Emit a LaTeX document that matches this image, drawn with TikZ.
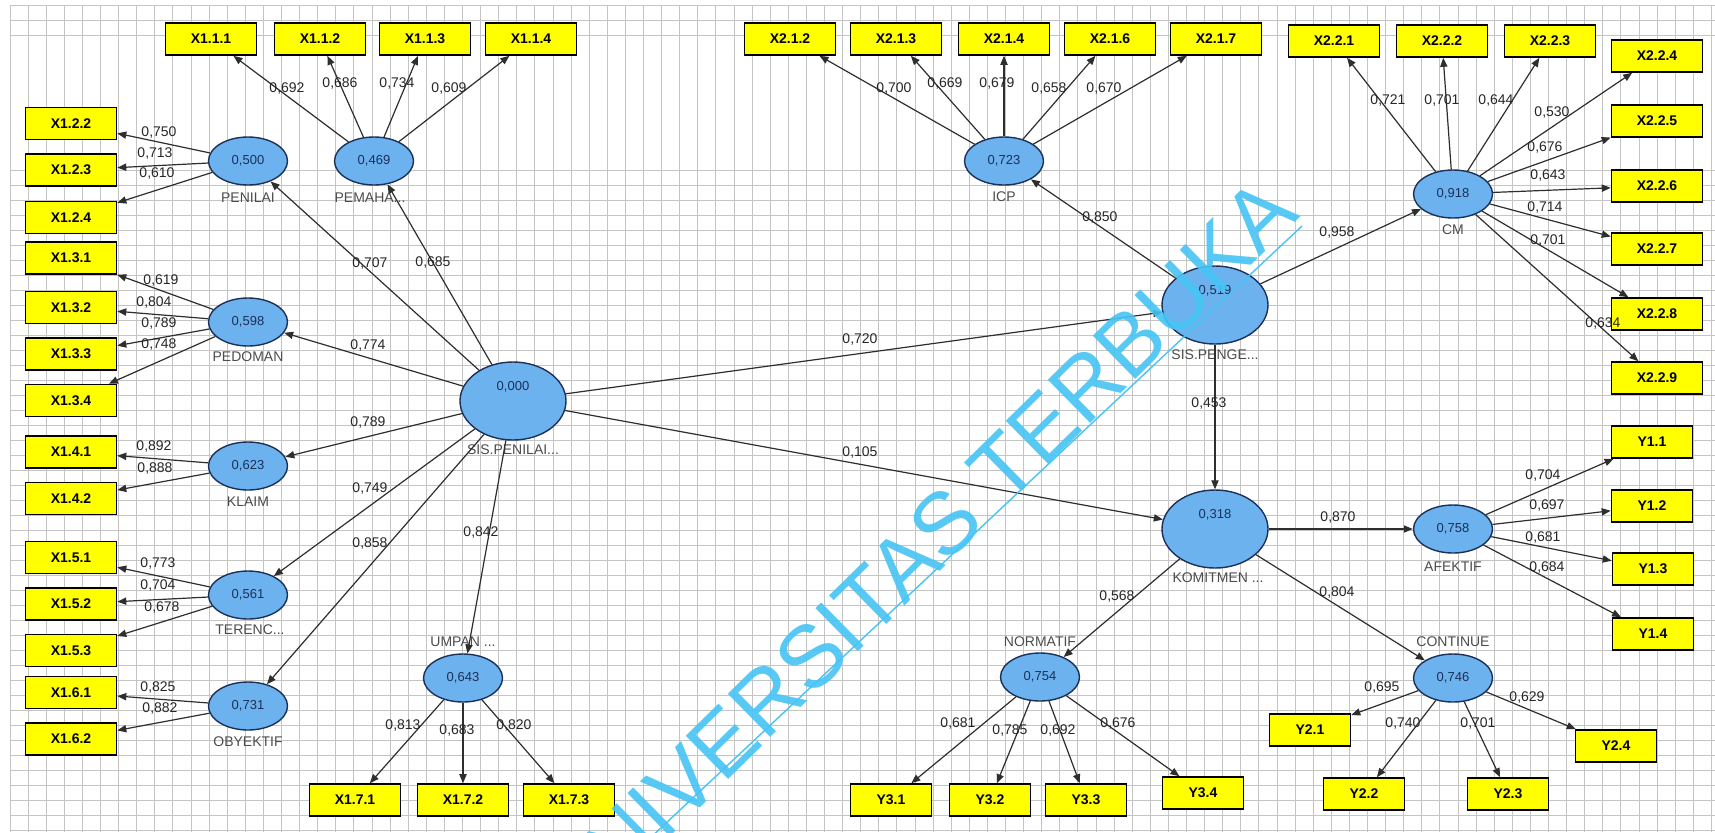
\documentclass[tikz,border=0pt]{standalone}
\usepackage{fontspec}
\setmainfont{Liberation Sans}
\usetikzlibrary{arrows.meta,shapes.geometric}

\definecolor{plsyellow}{RGB}{255,255,0}
\definecolor{plsblue}{RGB}{108,178,238}
\definecolor{plsnavy}{RGB}{28,48,88}
\definecolor{gridgray}{RGB}{196,196,196}
\definecolor{wmblue}{RGB}{70,196,245}

\begin{document}
\begin{tikzpicture}[x=0.5pt,y=-0.5pt,
  ind/.style={draw=black, line width=0.8pt, fill=plsyellow, minimum width=45.5pt,
    minimum height=16pt, inner sep=0pt, font=\fontsize{7}{8}\selectfont\bfseries},
  indy/.style={ind, minimum width=40.5pt},
  lv/.style={ellipse, draw=plsnavy, line width=0.7pt, fill=plsblue, minimum width=39.5pt,
    minimum height=24pt, inner sep=0pt, font=\fontsize{6.5}{7}\selectfont, text=plsnavy},
  biglv/.style={lv, minimum width=53pt, minimum height=39pt},
  bigval/.style={font=\fontsize{6.5}{7}\selectfont, text=plsnavy, inner sep=0pt},
  nm/.style={font=\fontsize{7}{8}\selectfont, text=black!70, inner sep=0pt},
  pl/.style={font=\fontsize{7}{8}\selectfont, text=black!85, inner sep=0pt},
  ld/.style={draw=black!82, line width=0.6pt, -{Triangle[length=4.5pt,width=3.6pt]}},
  gridln/.style={draw=gridgray, line width=0.5pt},
  wm/.style={font=\fontsize{44}{45}\selectfont, text=wmblue, inner sep=0pt},
  wmline/.style={draw=wmblue, line width=0.7pt}
]
% canvas
\fill[white] (0,0) rectangle (1715,832);
\useasboundingbox (0,0) rectangle (1715,832);

% graph-paper background
\foreach \k in {0,...,94} \draw[gridln] ({10+18.1*\k},5) -- ({10+18.1*\k},832);
\foreach \k in {0,1,2} \draw[gridln] (10,{5+15*\k}) -- (1715,{5+15*\k});
\foreach \k in {11,...,55} \draw[gridln] (10,{5+15*\k}) -- (1715,{5+15*\k});

% ---------- indicators ----------
\node[ind] (x111) at (211,39) {X1.1.1};
\node[ind] (x112) at (320,39) {X1.1.2};
\node[ind] (x113) at (425,39) {X1.1.3};
\node[ind] (x114) at (531,39) {X1.1.4};

\node[ind] (x122) at (71,123.5) {X1.2.2};
\node[ind] (x123) at (71,170) {X1.2.3};
\node[ind] (x124) at (71,217.5) {X1.2.4};
\node[ind] (x131) at (71,258) {X1.3.1};
\node[ind] (x132) at (71,307.5) {X1.3.2};
\node[ind] (x133) at (71,354) {X1.3.3};
\node[ind] (x134) at (71,400.5) {X1.3.4};
\node[ind] (x141) at (71,452) {X1.4.1};
\node[ind] (x142) at (71,498.5) {X1.4.2};
\node[ind] (x151) at (71,557.5) {X1.5.1};
\node[ind] (x152) at (71,604) {X1.5.2};
\node[ind] (x153) at (71,650.5) {X1.5.3};
\node[ind] (x161) at (71,692.5) {X1.6.1};
\node[ind] (x162) at (71,739) {X1.6.2};

\node[ind] (x171) at (355,800) {X1.7.1};
\node[ind] (x172) at (463,800) {X1.7.2};
\node[ind] (x173) at (569,800) {X1.7.3};

\node[ind] (x212) at (790,39) {X2.1.2};
\node[ind] (x213) at (896,39) {X2.1.3};
\node[ind] (x214) at (1004,39) {X2.1.4};
\node[ind] (x216) at (1110,39) {X2.1.6};
\node[ind] (x217) at (1216,39) {X2.1.7};

\node[ind] (x221) at (1334,41) {X2.2.1};
\node[ind] (x222) at (1442,41) {X2.2.2};
\node[ind] (x223) at (1550,41) {X2.2.3};
\node[ind] (x224) at (1657,56) {X2.2.4};
\node[ind] (x225) at (1657,121) {X2.2.5};
\node[ind] (x226) at (1657,186) {X2.2.6};
\node[ind] (x227) at (1657,249) {X2.2.7};
\node[ind] (x228) at (1657,314) {X2.2.8};
\node[ind] (x229) at (1657,378) {X2.2.9};

\node[indy] (y11) at (1652,442) {Y1.1};
\node[indy] (y12) at (1652,506) {Y1.2};
\node[indy] (y13) at (1653,569) {Y1.3};
\node[indy] (y14) at (1653,634) {Y1.4};

\node[indy] (y21) at (1310,730) {Y2.1};
\node[indy] (y22) at (1364,794) {Y2.2};
\node[indy] (y23) at (1508,794) {Y2.3};
\node[indy] (y24) at (1616,746) {Y2.4};

\node[indy] (y31) at (891,800) {Y3.1};
\node[indy] (y32) at (990,800) {Y3.2};
\node[indy] (y33) at (1086,800) {Y3.3};
\node[indy] (y34) at (1203,793) {Y3.4};

% ---------- latent variables ----------
\node[lv] (penilai) at (248,161) {0,500};
\node[lv] (pemaha) at (374,161) {0,469};
\node[lv] (pedoman) at (248,322) {0,598};
\node[lv] (klaim) at (248,466) {0,623};
\node[lv] (terenc) at (248,595) {0,561};
\node[lv] (obyek) at (248,706) {0,731};
\node[lv] (umpan) at (463,678) {0,643};
\node[biglv, label={[bigval,yshift=7pt]center:0,000}] (spn) at (513,401) {};
\node[lv] (icp) at (1004,161) {0,723};
\node[lv] (cm) at (1453,194) {0,918};
\node[biglv, label={[bigval,yshift=7pt]center:0,519}] (spg) at (1215,305) {};
\node[biglv, label={[bigval,yshift=7pt]center:0,318}] (kom) at (1215,529) {};
\node[lv] (afek) at (1453,529) {0,758};
\node[lv] (norm) at (1040,677) {0,754};
\node[lv] (cont) at (1453,678) {0,746};

% names of the latent variables
\node[nm] (npenilai) at (248,198) {PENILAI};
\node[nm] (npemaha) at (370,198) {PEMAHA...};
\node[nm] (npedoman) at (248,357) {PEDOMAN};
\node[nm] (nklaim) at (248,502) {KLAIM};
\node[nm] (nterenc) at (250,630) {TERENC...};
\node[nm] (nobyek) at (248,742) {OBYEKTIF};
\node[nm] (numpan) at (463,642) {UMPAN ...};
\node[nm] (nspn) at (513,450) {SIS.PENILAI...};
\node[nm] (nicp) at (1004,197) {ICP};
\node[nm] (ncm) at (1453,230) {CM};
\node[nm] (nspg) at (1215,355) {SIS.PENGE...};
\node[nm] (nkom) at (1218,578) {KOMITMEN ...};
\node[nm] (nafek) at (1453,567) {AFEKTIF};
\node[nm] (nnorm) at (1040,642) {NORMATIF};
\node[nm] (ncont) at (1453,642) {CONTINUE};

% ---------- outer loadings ----------
\foreach \s/\t in {pemaha/x111, pemaha/x112, pemaha/x113, pemaha/x114,
  penilai/x122, penilai/x123, penilai/x124,
  pedoman/x131, pedoman/x132, pedoman/x133, pedoman/x134,
  klaim/x141, klaim/x142,
  terenc/x151, terenc/x152, terenc/x153,
  obyek/x161, obyek/x162,
  umpan/x171, umpan/x172, umpan/x173,
  icp/x212, icp/x213, icp/x214, icp/x216, icp/x217,
  cm/x221, cm/x222, cm/x223, cm/x224, cm/x225, cm/x226, cm/x227, cm/x228, cm/x229,
  afek/y11, afek/y12, afek/y13, afek/y14,
  cont/y21, cont/y22, cont/y23, cont/y24,
  norm/y31, norm/y32, norm/y33, norm/y34}
  \draw[ld] (\s) -- (\t);

% ---------- structural paths ----------
\foreach \s/\t in {spn/penilai, spn/pemaha, spn/pedoman, spn/klaim, spn/terenc,
  spn/obyek, spn/umpan, spn/spg, spn/kom,
  spg/icp, spg/cm, spg/kom,
  kom/afek, kom/norm, kom/cont}
  \draw[ld] (\s) -- (\t);

% ---------- coefficients ----------
\node[pl] (c01) at (159,132) {0,750};
\node[pl] (c02) at (155,153) {0,713};
\node[pl] (c03) at (157,173) {0,610};
\node[pl] (c04) at (287,88) {0,692};
\node[pl] (c05) at (340,83) {0,686};
\node[pl] (c06) at (397,83) {0,734};
\node[pl] (c07) at (449,88) {0,609};
\node[pl] (c08) at (370,263) {0,707};
\node[pl] (c09) at (433,262) {0,685};
\node[pl] (c10) at (161,280) {0,619};
\node[pl] (c11) at (154,302) {0,804};
\node[pl] (c12) at (159,323) {0,789};
\node[pl] (c13) at (159,344) {0,748};
\node[pl] (c14) at (368,345) {0,774};
\node[pl] (c15) at (368,422) {0,789};
\node[pl] (c16) at (154,446) {0,892};
\node[pl] (c17) at (155,468) {0,888};
\node[pl] (c18) at (370,488) {0,749};
\node[pl] (c19) at (370,543) {0,858};
\node[pl] (c20) at (481,532) {0,842};
\node[pl] (c21) at (158,563) {0,773};
\node[pl] (c22) at (158,585) {0,704};
\node[pl] (c23) at (162,607) {0,678};
\node[pl] (c24) at (158,687) {0,825};
\node[pl] (c25) at (160,708) {0,882};
\node[pl] (c26) at (403,725) {0,813};
\node[pl] (c27) at (457,730) {0,683};
\node[pl] (c28) at (514,725) {0,820};
\node[pl] (c29) at (860,339) {0,720};
\node[pl] (c30) at (860,452) {0,105};
\node[pl] (c31) at (894,88) {0,700};
\node[pl] (c32) at (945,83) {0,669};
\node[pl] (c33) at (997,83) {0,679};
\node[pl] (c34) at (1049,88) {0,658};
\node[pl] (c35) at (1104,88) {0,670};
\node[pl] (c36) at (1100,217) {0,850};
\node[pl] (c37) at (1337,232) {0,958};
\node[pl] (c38) at (1209,403) {0,453};
\node[pl] (c39) at (1388,100) {0,721};
\node[pl] (c40) at (1442,100) {0,701};
\node[pl] (c41) at (1496,100) {0,644};
\node[pl] (c42) at (1552,112) {0,530};
\node[pl] (c43) at (1545,147) {0,676};
\node[pl] (c44) at (1548,175) {0,643};
\node[pl] (c45) at (1545,207) {0,714};
\node[pl] (c46) at (1548,240) {0,701};
\node[pl] (c47) at (1603,323) {0,634};
\node[pl] (c48) at (1338,517) {0,870};
\node[pl] (c49) at (1117,596) {0,568};
\node[pl] (c50) at (1337,592) {0,804};
\node[pl] (c51) at (1543,475) {0,704};
\node[pl] (c52) at (1547,505) {0,697};
\node[pl] (c53) at (1543,537) {0,681};
\node[pl] (c54) at (1547,567) {0,684};
\node[pl] (c55) at (958,723) {0,681};
\node[pl] (c56) at (1010,730) {0,785};
\node[pl] (c57) at (1058,730) {0,692};
\node[pl] (c58) at (1118,723) {0,676};
\node[pl] (c59) at (1382,687) {0,695};
\node[pl] (c60) at (1403,723) {0,740};
\node[pl] (c61) at (1478,723) {0,701};
\node[pl] (c62) at (1527,697) {0,629};

% ---------- watermark ----------
\begin{scope}
\clip (0,0) rectangle (1715,832);
\node[wm, rotate=44.5, anchor=base east, opacity=0.9] (wmark) at (1302,216) {UNIVERSITAS TERBUKA};
\coordinate (wmA) at (648,840);
\coordinate (wmB) at (1302,226);
\draw[wmline] (wmA) -- (wmB);
\end{scope}
\end{tikzpicture}
\end{document}
